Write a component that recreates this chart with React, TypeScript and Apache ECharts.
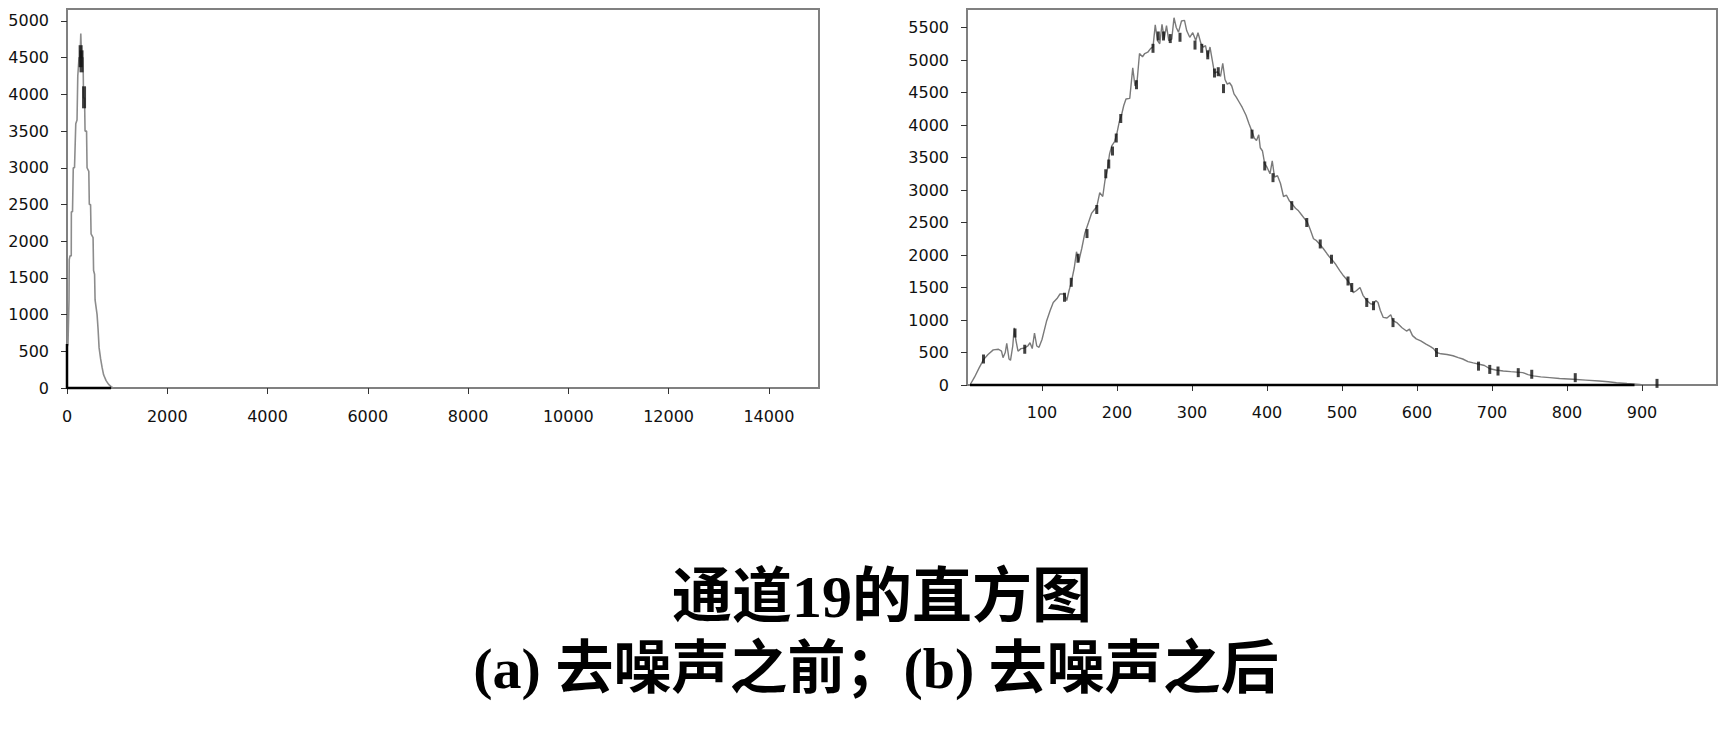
import React, { useEffect, useRef } from "react";
import * as echarts from "echarts";

// ---- Data ----
// (a) before denoising: histogram curve [grey value, count]
const leftCurve: [number, number][] = [
  [0, 0], [0, 550], [20, 600], [40, 1200], [45, 1750], [60, 1800], [85, 1800], [87, 2400],
  [110, 2400], [125, 3000], [150, 3000], [175, 3600], [200, 3650], [215, 4250], [240, 4500],
  [260, 4500], [275, 4830], [290, 4500], [320, 4500], [330, 3950], [350, 3950], [360, 3500],
  [390, 3500], [400, 3000], [435, 2950], [445, 2500], [470, 2500], [480, 2100], [520, 2050],
  [530, 1600], [550, 1550], [560, 1200], [600, 1000], [620, 800], [640, 550], [670, 400],
  [700, 280], [730, 180], [780, 100], [830, 50], [880, 20], [920, 0],
];
// dark (overplotted) marks of (a)
const leftDark: [number, number][] = [[0, 600], [0, 0], [880, 0]];
const leftDarkMarks: [number, number][] = [[272, 4520], [290, 4450], [340, 3960]];

// (b) after denoising
const rightCurve: [number, number][] = [
  [4, 0], [10, 120], [16, 260], [22, 390], [28, 470], [35, 540], [42, 550], [46, 520], [48, 420],
  [51, 500], [53, 640], [56, 400], [58, 380], [61, 600], [63, 880], [65, 700], [68, 520], [72, 560],
  [77, 570], [81, 600], [84, 650], [87, 560], [90, 800], [93, 600], [96, 580], [100, 700],
  [106, 980], [111, 1150], [115, 1270], [120, 1330], [124, 1400], [130, 1400], [133, 1300],
  [136, 1450], [139, 1580], [143, 1800], [146, 2050], [149, 1900], [153, 2100], [157, 2330],
  [162, 2500], [166, 2640], [170, 2700], [173, 2740], [177, 2960], [181, 2900], [184, 3150],
  [187, 3300], [190, 3550], [193, 3680], [197, 3750], [200, 3880], [203, 4050], [206, 4150],
  [209, 4300], [212, 4400], [217, 4410], [221, 4880], [224, 4600], [227, 4700], [230, 5100],
  [234, 5050], [237, 5100], [241, 5120], [245, 5180], [248, 5200], [251, 5540], [254, 5300],
  [257, 5250], [260, 5550], [263, 5330], [266, 5530], [269, 5300], [273, 5320], [276, 5650],
  [279, 5500], [282, 5430], [286, 5600], [290, 5610], [293, 5450], [297, 5350], [301, 5420],
  [305, 5300], [308, 5420], [312, 5250], [315, 5200], [318, 5220], [321, 5050], [324, 5200],
  [327, 5000], [330, 4800], [334, 4820], [338, 4750], [341, 4950], [344, 4700], [347, 4630],
  [350, 4650], [353, 4600], [356, 4480], [359, 4430], [363, 4350], [367, 4270], [372, 4150],
  [376, 4020], [380, 3900], [383, 3800], [386, 3760], [389, 3850], [391, 3650], [394, 3600],
  [397, 3400], [400, 3350], [404, 3250], [407, 3450], [410, 3200], [414, 3220], [418, 3100],
  [422, 2900], [426, 2920], [430, 2830], [434, 2780], [438, 2720], [442, 2680], [446, 2620],
  [450, 2560], [454, 2500], [458, 2380], [462, 2250], [466, 2220], [470, 2170], [475, 2100],
  [480, 2020], [484, 1960], [488, 1910], [492, 1850], [497, 1760], [502, 1680], [508, 1600],
  [512, 1530], [515, 1420], [519, 1450], [524, 1500], [528, 1380], [533, 1300], [538, 1250],
  [542, 1240], [545, 1300], [548, 1270], [551, 1150], [555, 1040], [560, 1030], [565, 1080],
  [568, 990], [573, 960], [580, 880], [586, 830], [590, 860], [594, 760], [599, 710], [605, 680],
  [612, 630], [618, 590], [622, 560], [626, 500], [632, 480], [640, 470], [648, 450], [655, 420],
  [661, 400], [668, 360], [675, 340], [683, 320], [690, 300], [697, 250], [705, 230], [715, 215],
  [725, 205], [741, 190], [748, 160], [755, 140], [765, 125], [777, 113], [790, 100], [808, 88],
  [825, 75], [843, 62], [855, 50], [866, 35], [880, 22], [897, 10], [900, 0],
];
const rightDark: [number, number][] = [[4, 0], [890, 0]];
const rightDarkMarks: [number, number][] = [
  [22, 400], [64, 800], [77, 550], [130, 1350], [139, 1580], [148, 1950], [160, 2330],
  [173, 2700], [185, 3250], [189, 3400], [194, 3600], [199, 3800], [205, 4100], [226, 4620],
  [248, 5180], [255, 5370], [262, 5370], [271, 5330], [284, 5350], [304, 5230], [313, 5180],
  [321, 5080], [330, 4800], [335, 4820], [342, 4560], [380, 3860], [397, 3370], [408, 3190],
  [433, 2760], [453, 2500], [471, 2170], [486, 1935], [508, 1600], [513, 1500], [533, 1270],
  [542, 1220], [568, 960], [626, 500], [682, 290], [697, 240], [708, 215], [735, 190],
  [753, 165], [811, 113], [920, 25],
];

const leftXTicks = { min: 0, max: 15000, interval: 2000 };
const leftYTicks = { min: 0, max: 5163, interval: 500 };
const rightXTicks = { min: 0, max: 1000, interval: 100 };
const rightXLabels = [100, 200, 300, 400, 500, 600, 700, 800, 900];
const rightYTicks = { min: 0, max: 5785, interval: 500 };

const titleLine1 = "通道19的直方图";
const titleLine2 = "(a) 去噪声之前；(b) 去噪声之后";

const AXIS_GREY = "#808080";
const plain = (v: number) => String(v);
const LABEL_FONT = { color: "#111", fontSize: 16, fontFamily: "DejaVu Sans", formatter: plain };
const TITLE_FONT = "'Liberation Serif', 'Noto Sans CJK SC', serif";

export default function App() {
  const ref = useRef<HTMLDivElement>(null);

  useEffect(() => {
    if (!ref.current) return;
    const chart = echarts.init(ref.current, undefined, { renderer: "svg" });

    const xAxisBase = (gridIndex: number, t: any, label: any, margin: number) => ({
      type: "value",
      gridIndex,
      min: t.min,
      max: t.max,
      interval: t.interval,
      splitLine: { show: false },
      axisLine: { show: true, onZero: false, lineStyle: { color: AXIS_GREY, width: 2 } },
      axisTick: { show: true, length: 6, lineStyle: { color: "#333", width: 1 } },
      axisLabel: { margin, ...LABEL_FONT, ...label },
    });
    const yAxisBase = (gridIndex: number, t: any, margin: number) => ({
      type: "value",
      gridIndex,
      min: t.min,
      max: t.max,
      interval: t.interval,
      splitLine: { show: false },
      axisLine: { show: true, onZero: false, lineStyle: { color: AXIS_GREY, width: 2 } },
      axisTick: { show: true, length: 6, lineStyle: { color: "#333", width: 1 } },
      axisLabel: { margin, showMaxLabel: false, ...LABEL_FONT },
    });

    const option: any = {
      animation: false,
      backgroundColor: "#ffffff",
      grid: [
        { left: 67, top: 9, width: 752, height: 379, show: true, borderColor: AXIS_GREY, borderWidth: 2, outerBoundsMode: "none", containLabel: false },
        { left: 967, top: 9, width: 750, height: 376, show: true, borderColor: AXIS_GREY, borderWidth: 2, outerBoundsMode: "none", containLabel: false },
      ],
      xAxis: [
        xAxisBase(0, leftXTicks, { showMaxLabel: false }, 20),
        {
          ...xAxisBase(1, rightXTicks, { customValues: rightXLabels }, 19),
          axisTick: { show: true, length: 6, lineStyle: { color: "#333", width: 1 }, customValues: rightXLabels },
        },
      ],
      yAxis: [yAxisBase(0, leftYTicks, 18), yAxisBase(1, rightYTicks, 18)],
      series: [
        {
          type: "line", xAxisIndex: 0, yAxisIndex: 0, data: leftCurve, showSymbol: false, symbol: "none",
          lineStyle: { color: "#8c8c8c", width: 1.6 }, z: 3,
        },
        {
          type: "line", xAxisIndex: 0, yAxisIndex: 0, data: leftDark, showSymbol: false, symbol: "none", clip: false,
          lineStyle: { color: "#000", width: 2.5 }, z: 4,
        },
        {
          type: "scatter", xAxisIndex: 0, yAxisIndex: 0, data: leftDarkMarks, symbol: "rect", symbolSize: [4, 22],
          itemStyle: { color: "#111" }, z: 4,
        },
        {
          type: "line", xAxisIndex: 1, yAxisIndex: 1, data: rightCurve, showSymbol: false, symbol: "none",
          lineStyle: { color: "#7a7a7a", width: 1.4 }, z: 3,
        },
        {
          type: "line", xAxisIndex: 1, yAxisIndex: 1, data: rightDark, showSymbol: false, symbol: "none", clip: false,
          lineStyle: { color: "#000", width: 2.5 }, z: 4,
        },
        {
          type: "scatter", xAxisIndex: 1, yAxisIndex: 1, data: rightDarkMarks, symbol: "rect", symbolSize: [3, 9],
          itemStyle: { color: "#111" }, z: 4,
        },
      ],
      graphic: [
        {
          type: "text", x: 882, y: 597, z: 10,
          style: { text: titleLine1, fontSize: 60, fontWeight: "bold", fontFamily: TITLE_FONT, fill: "#000", align: "center", verticalAlign: "middle" },
        },
        {
          type: "text", x: 876, y: 668, z: 10,
          style: { text: titleLine2, fontSize: 58, fontWeight: "bold", fontFamily: TITLE_FONT, fill: "#000", align: "center", verticalAlign: "middle" },
        },
      ],
    };

    chart.setOption(option);
    return () => chart.dispose();
  }, []);

  return (
    <div
      ref={ref}
      style={{ position: "fixed", left: 0, top: 0, width: 1730, height: 735, background: "#fff" }}
    />
  );
}
